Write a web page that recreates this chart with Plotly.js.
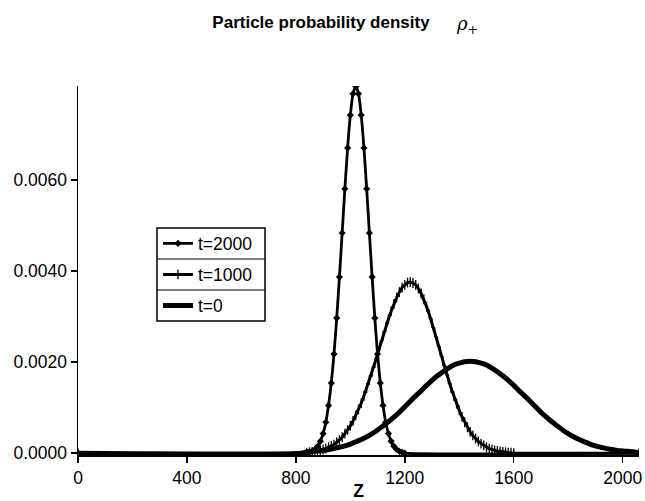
<!DOCTYPE html>
<html><head><meta charset="utf-8">
<script src="https://cdn.plot.ly/plotly-3.0.1.min.js"></script>
<style>html,body{margin:0;padding:0;background:#fff}#chart{width:645px;height:501px}</style>
</head><body><div id="chart"></div>
<script>
// Series labels
const seriesNames = ['t=2000', 't=1000', 't=0'];

// Narrow peak
const zNarrow = [0,840,850,860,870,880,890,900,910,920,930,940,950,960,970,980,990,1000,1010,1020,1030,1040,1050,1060,1070,1080,1090,1100,1110,1120,1130,1140,1150,1160,1170,1180,1190,1200,2060];
const rhoNarrow = [0,0,0.00002,0.00004,0.00008,0.00015,0.00026,0.00043,0.00068,0.00105,0.00154,0.00218,0.00297,0.00387,0.00484,0.00581,0.00671,0.00743,0.00790,0.00806,0.00790,0.00743,0.00671,0.00581,0.00484,0.00387,0.00297,0.00218,0.00154,0.00105,0.00068,0.00043,0.00026,0.00015,0.00008,0.00004,0.00002,0,0];

// Medium peak
const zMedium = [0,840,850,860,870,880,890,900,910,920,930,940,950,960,970,980,990,1000,1010,1020,1030,1040,1050,1060,1070,1080,1090,1100,1110,1120,1130,1140,1150,1160,1170,1180,1190,1200,1210,1220,1230,1240,1250,1260,1270,1280,1290,1300,1310,1320,1330,1340,1350,1360,1370,1380,1390,1400,1410,1420,1430,1440,1450,1460,1470,1480,1490,1500,1510,1520,1530,1540,1550,1560,1570,1580,1590,1600,2060];
const rhoMedium = [0,0,0.00002,0.00003,0.00004,0.00005,0.00006,0.00008,0.00010,0.00013,0.00016,0.00019,0.00024,0.00029,0.00035,0.00043,0.00051,0.00060,0.00071,0.00083,0.00096,0.00110,0.00126,0.00143,0.00161,0.00179,0.00198,0.00218,0.00238,0.00258,0.00277,0.00295,0.00312,0.00328,0.00342,0.00354,0.00364,0.00370,0.00375,0.00376,0.00374,0.00370,0.00362,0.00351,0.00338,0.00322,0.00305,0.00286,0.00266,0.00245,0.00224,0.00203,0.00182,0.00162,0.00143,0.00126,0.00109,0.00094,0.00080,0.00068,0.00057,0.00047,0.00039,0.00032,0.00026,0.00021,0.00017,0.00013,0.00010,0.00008,0.00006,0.00005,0.00004,0.00003,0.00002,0.00001,0.00001,0,0];

// Wide peak
const zWide = [0,820,840,860,880,900,920,940,960,980,1000,1020,1040,1060,1080,1100,1120,1140,1160,1180,1200,1220,1240,1260,1280,1300,1320,1340,1360,1380,1400,1420,1440,1460,1480,1500,1520,1540,1560,1580,1600,1620,1640,1660,1680,1700,1720,1740,1760,1780,1800,1820,1840,1860,1880,1900,1920,1940,1960,1980,2000,2020,2040,2060];
const rhoWide = [0,0,0.00003,0.00004,0.00005,0.00006,0.00008,0.00010,0.00013,0.00016,0.00020,0.00025,0.00030,0.00036,0.00043,0.00051,0.00060,0.00069,0.00079,0.00090,0.00102,0.00114,0.00126,0.00137,0.00149,0.00160,0.00170,0.00179,0.00187,0.00194,0.00198,0.00201,0.00202,0.00201,0.00198,0.00194,0.00187,0.00179,0.00170,0.00160,0.00149,0.00137,0.00126,0.00114,0.00102,0.00090,0.00079,0.00069,0.00060,0.00051,0.00043,0.00036,0.00030,0.00025,0.00020,0.00016,0.00013,0.00010,0.00008,0.00006,0.00005,0.00004,0.00003,0];

// Axis ticks
const xTicks = [0,400,800,1200,1600,2000];
const xTickText = ['0','400','800','1200','1600','2000'];
const yTicks = [0,0.002,0.004,0.006];
const yTickText = ['0.0000','0.0020','0.0040','0.0060'];

const FONT = 'Liberation Sans, Arial, Helvetica, sans-serif';
const L = 78, R = 639, T = 86, B = 455;
const px = x => (x - L) / (R - L);
const py = y => (B - y) / (B - T);

const traces = [
  {x: zWide, y: rhoWide, name: seriesNames[2], legend: 'legend3', mode: 'lines',
   line: {color: '#000', width: 5, shape: 'spline', smoothing: 0.8}},
  {x: zMedium, y: rhoMedium, name: seriesNames[1], legend: 'legend2', mode: 'lines+markers',
   line: {color: '#000', width: 3},
   marker: {symbol: 'line-ns-open', size: 7, color: '#000', line: {color: '#000', width: 1.3}}},
  {x: zNarrow, y: rhoNarrow, name: seriesNames[0], legend: 'legend', mode: 'lines+markers',
   line: {color: '#000', width: 2.8, shape: 'spline', smoothing: 0.6},
   marker: {symbol: 'diamond', size: 5.5, color: '#000'}}
];

const legBase = {xanchor: 'left', yanchor: 'middle', bgcolor: 'rgba(0,0,0,0)', borderwidth: 0,
  font: {family: FONT, size: 17.5, color: '#000'}, itemwidth: 30};

const layout = {
  width: 645, height: 501,
  margin: {l: L, r: 645 - R, t: T, b: 501 - B},
  paper_bgcolor: '#fff', plot_bgcolor: '#fff',
  showlegend: true,
  title: {text: '<b>Particle probability density</b>', font: {family: FONT, size: 17, color: '#000'},
    x: 321 / 645, xanchor: 'center', xref: 'container', y: 1 - 22 / 501, yanchor: 'middle', yref: 'container'},
  xaxis: {range: [0, 2060], tickvals: xTicks, ticktext: xTickText, ticks: 'outside', ticklen: 6,
    tickwidth: 1.5, tickcolor: '#000', showline: true, linewidth: 1.5, linecolor: '#000',
    showgrid: false, zeroline: false, tickfont: {family: FONT, size: 17.5, color: '#000'},
    title: {text: '<b>Z</b>', font: {family: FONT, size: 17.5, color: '#000'}, standoff: 3}},
  yaxis: {range: [-0.00004, 0.00807], tickvals: yTicks, ticktext: yTickText, ticks: 'outside', ticklen: 6,
    tickwidth: 1.5, tickcolor: '#000', showline: true, linewidth: 1.5, linecolor: '#000',
    showgrid: false, zeroline: false, tickfont: {family: FONT, size: 17.5, color: '#000'}},
  legend: Object.assign({}, legBase, {x: px(158), y: py(243.5)}),
  legend2: Object.assign({}, legBase, {x: px(158), y: py(274.5)}),
  legend3: Object.assign({}, legBase, {x: px(158), y: py(305.5)}),
  shapes: [
    {type: 'rect', xref: 'paper', yref: 'paper', x0: px(157), x1: px(265), y0: py(321), y1: py(228),
     line: {color: '#000', width: 1.5}},
    {type: 'line', xref: 'paper', yref: 'paper', x0: px(157), x1: px(265), y0: py(259), y1: py(259),
     line: {color: '#000', width: 1.2}},
    {type: 'line', xref: 'paper', yref: 'paper', x0: px(157), x1: px(265), y0: py(290), y1: py(290),
     line: {color: '#000', width: 1.2}}
  ],
  annotations: [
    {xref: 'paper', yref: 'paper', x: px(467), y: py(25), xanchor: 'center', yanchor: 'middle',
     text: '<i>ρ</i><sub>+</sub>', showarrow: false, font: {family: 'DejaVu Serif, serif', size: 18, color: '#000'}}
  ]
};

Plotly.newPlot('chart', traces, layout, {staticPlot: true, displayModeBar: false});
</script>
</body></html>
